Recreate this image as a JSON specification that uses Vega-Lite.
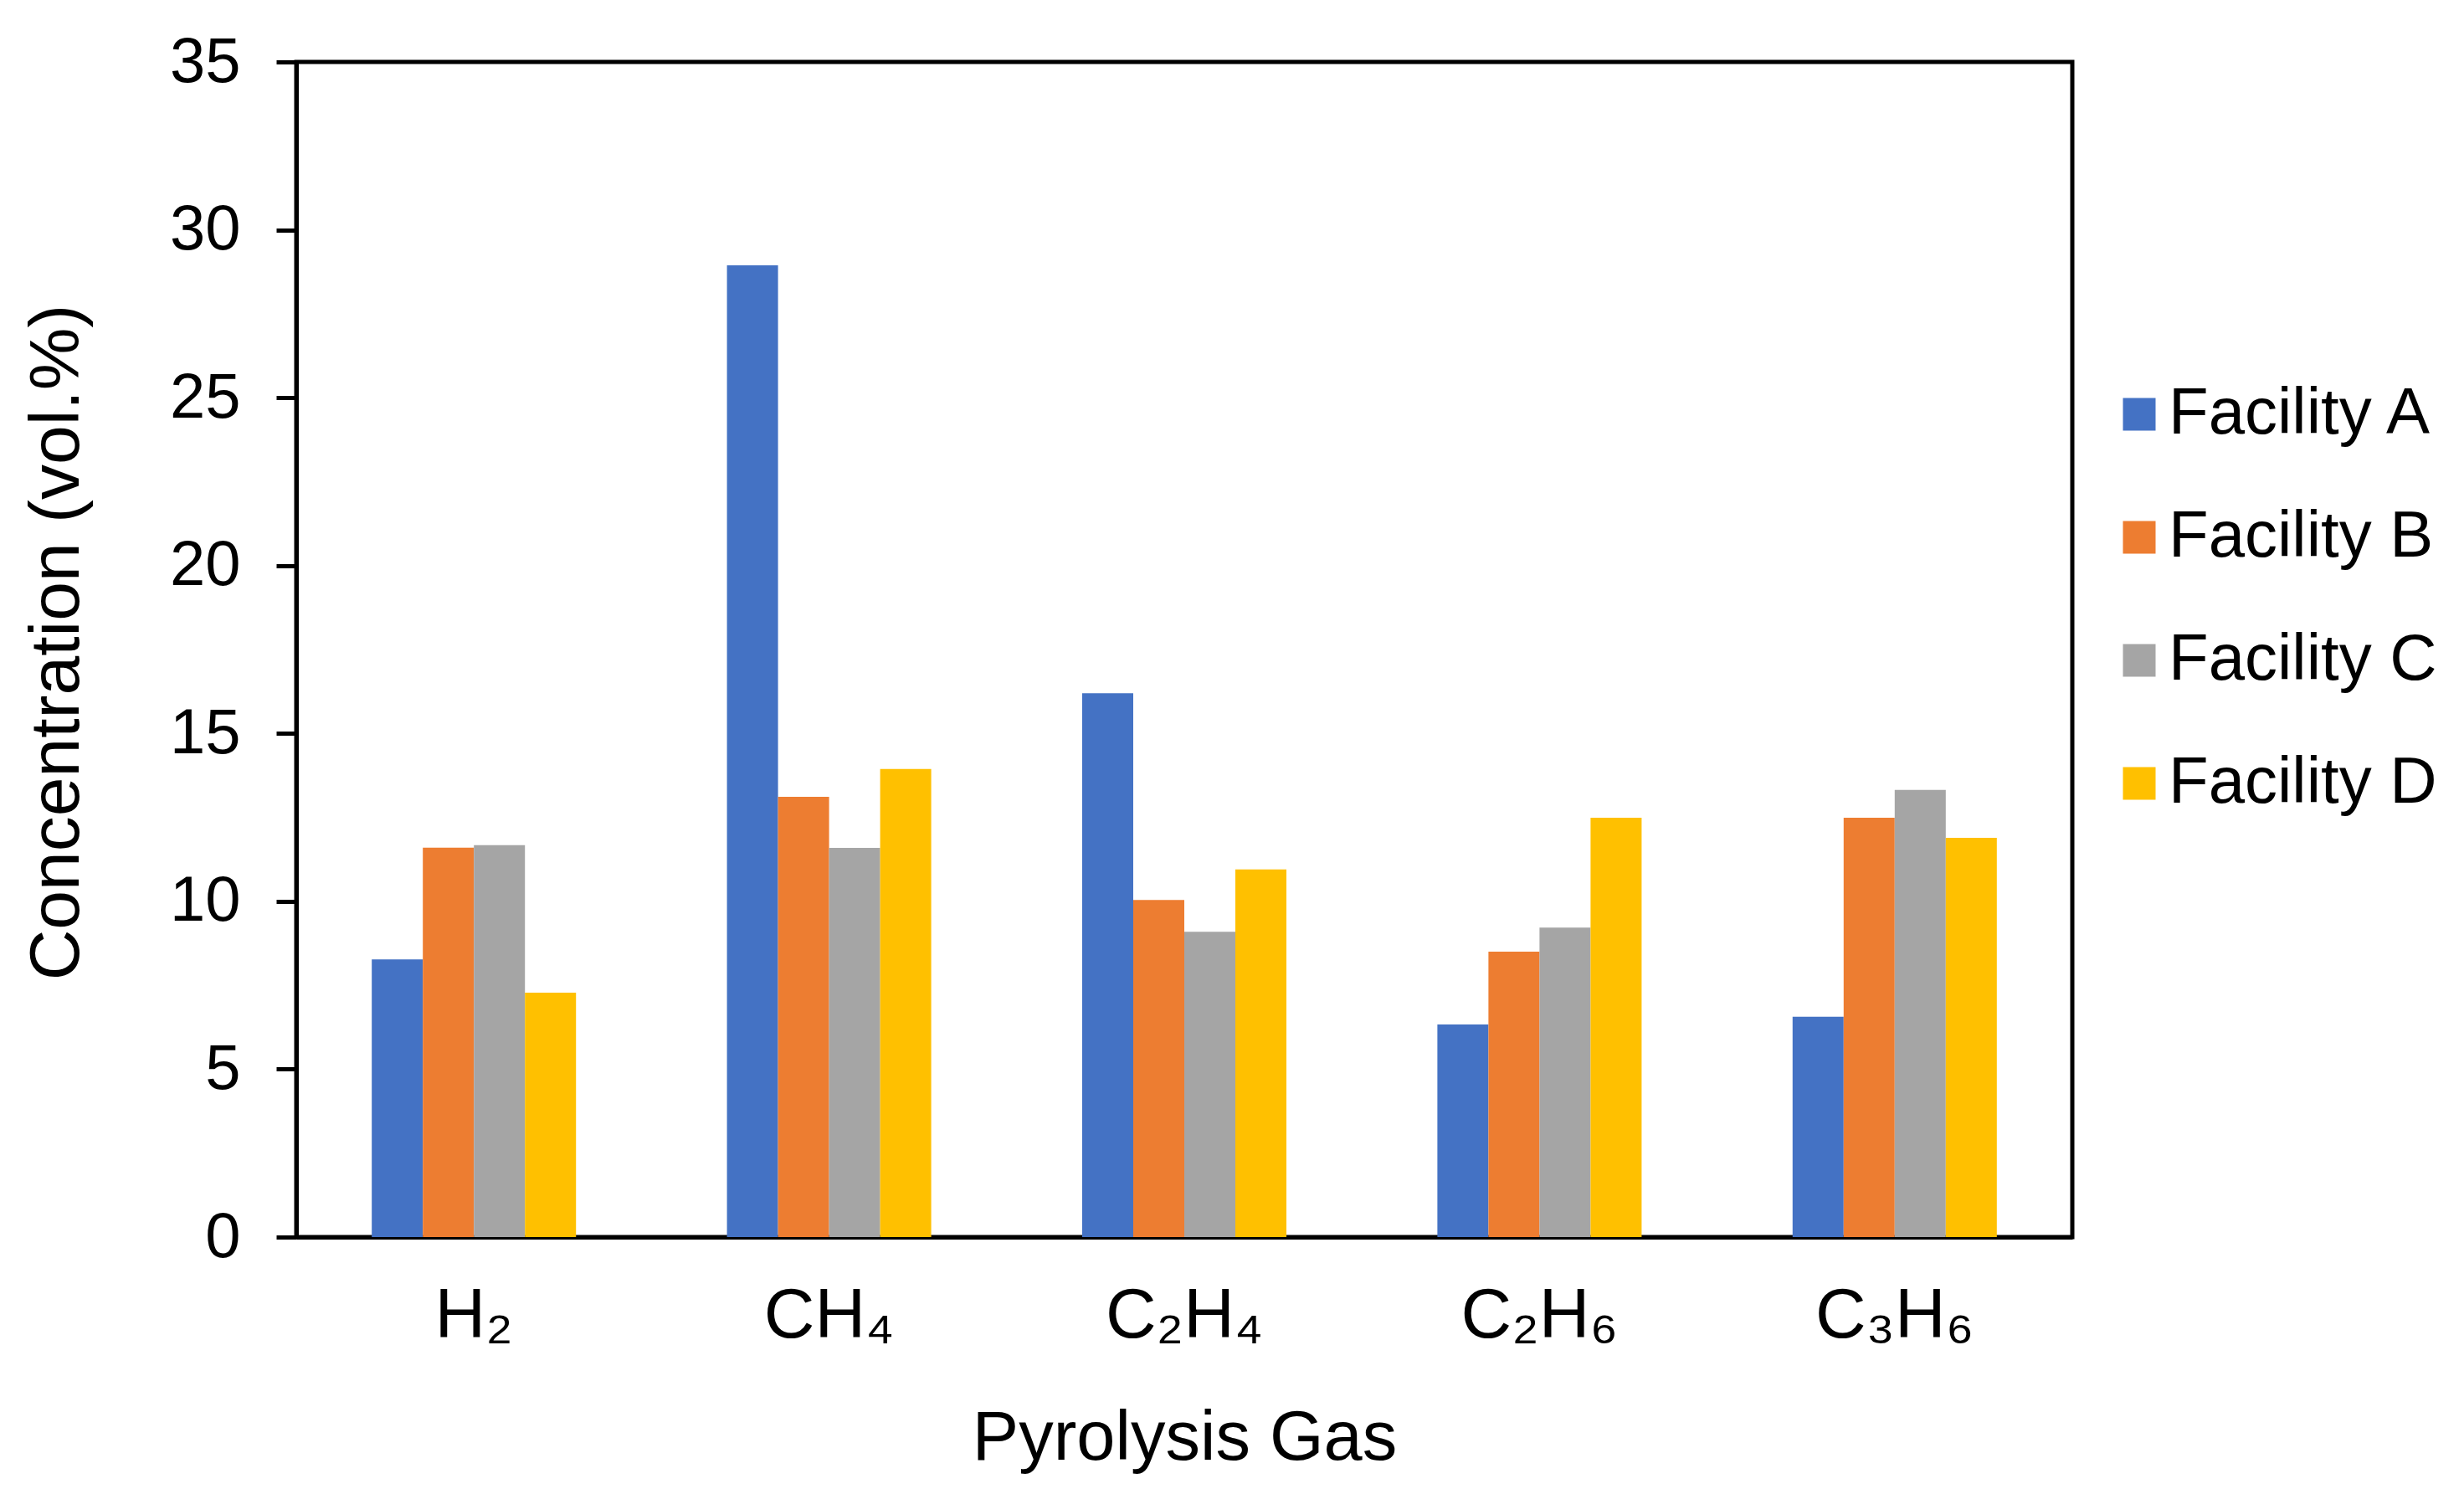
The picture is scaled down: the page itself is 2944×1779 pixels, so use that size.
{
  "$schema": "https://vega.github.io/schema/vega-lite/v6.json",
  "width": 2122,
  "height": 1404,
  "autosize": {"type": "none"},
  "padding": {"left": 354, "top": 74, "right": 468, "bottom": 301},
  "background": "white",
  "config": {
    "font": "Liberation Sans",
    "view": {"stroke": "black", "strokeWidth": 5},
    "axis": {
      "grid": false,
      "domainColor": "black",
      "domainWidth": 5,
      "labelColor": "black",
      "titleColor": "black",
      "labelFont": "Liberation Sans",
      "titleFont": "Liberation Sans",
      "titleFontWeight": "normal"
    },
    "legend": {"labelFont": "Liberation Sans"}
  },
  "data": {
    "values": [
      {"gas": "H₂", "facility": "Facility A", "value": 8.27},
      {"gas": "H₂", "facility": "Facility B", "value": 11.6},
      {"gas": "H₂", "facility": "Facility C", "value": 11.67},
      {"gas": "H₂", "facility": "Facility D", "value": 7.28},
      {"gas": "CH₄", "facility": "Facility A", "value": 28.94},
      {"gas": "CH₄", "facility": "Facility B", "value": 13.11},
      {"gas": "CH₄", "facility": "Facility C", "value": 11.59},
      {"gas": "CH₄", "facility": "Facility D", "value": 13.94},
      {"gas": "C₂H₄", "facility": "Facility A", "value": 16.2},
      {"gas": "C₂H₄", "facility": "Facility B", "value": 10.04},
      {"gas": "C₂H₄", "facility": "Facility C", "value": 9.09},
      {"gas": "C₂H₄", "facility": "Facility D", "value": 10.95},
      {"gas": "C₂H₆", "facility": "Facility A", "value": 6.33},
      {"gas": "C₂H₆", "facility": "Facility B", "value": 8.5},
      {"gas": "C₂H₆", "facility": "Facility C", "value": 9.22},
      {"gas": "C₂H₆", "facility": "Facility D", "value": 12.49},
      {"gas": "C₃H₆", "facility": "Facility A", "value": 6.56},
      {"gas": "C₃H₆", "facility": "Facility B", "value": 12.49},
      {"gas": "C₃H₆", "facility": "Facility C", "value": 13.32},
      {"gas": "C₃H₆", "facility": "Facility D", "value": 11.89}
    ]
  },
  "mark": {"type": "bar"},
  "encoding": {
    "x": {
      "field": "gas",
      "type": "nominal",
      "sort": ["H₂", "CH₄", "C₂H₄", "C₂H₆", "C₃H₆"],
      "scale": {"paddingInner": 0.425, "paddingOuter": 0.2125},
      "axis": {
        "title": "Pyrolysis Gas",
        "labelAngle": 0,
        "labelFontSize": 84,
        "labelPadding": 119,
        "labelBaseline": "alphabetic",
        "labelLimit": 0,
        "ticks": false,
        "tickSize": 0,
        "titleFontSize": 83,
        "titleBaseline": "alphabetic",
        "titleY": 265
      }
    },
    "xOffset": {
      "field": "facility",
      "type": "nominal",
      "scale": {"paddingInner": 0, "paddingOuter": 0}
    },
    "y": {
      "field": "value",
      "type": "quantitative",
      "scale": {"domain": [0, 35], "nice": false},
      "axis": {
        "title": "Concentration (vol.%)",
        "values": [0, 5, 10, 15, 20, 25, 30, 35],
        "tickSize": 24,
        "tickWidth": 5,
        "tickColor": "black",
        "labelFontSize": 76,
        "labelPadding": 43,
        "titleFontSize": 84,
        "titleAngle": -90,
        "titleX": -261,
        "titleY": 693,
        "titleBaseline": "alphabetic",
        "titleAlign": "center"
      }
    },
    "color": {
      "field": "facility",
      "type": "nominal",
      "scale": {
        "domain": ["Facility A", "Facility B", "Facility C", "Facility D"],
        "range": ["#4472C4", "#ED7D31", "#A5A5A5", "#FFC000"]
      },
      "legend": {
        "title": null,
        "orient": "none",
        "legendX": 2163,
        "legendY": 382,
        "symbolType": "square",
        "symbolSize": 1521,
        "symbolStrokeWidth": 0,
        "symbolOpacity": 1,
        "labelFontSize": 78,
        "labelColor": "black",
        "labelOffset": -4,
        "labelLimit": 0,
        "rowPadding": 69,
        "padding": 0
      }
    }
  }
}
